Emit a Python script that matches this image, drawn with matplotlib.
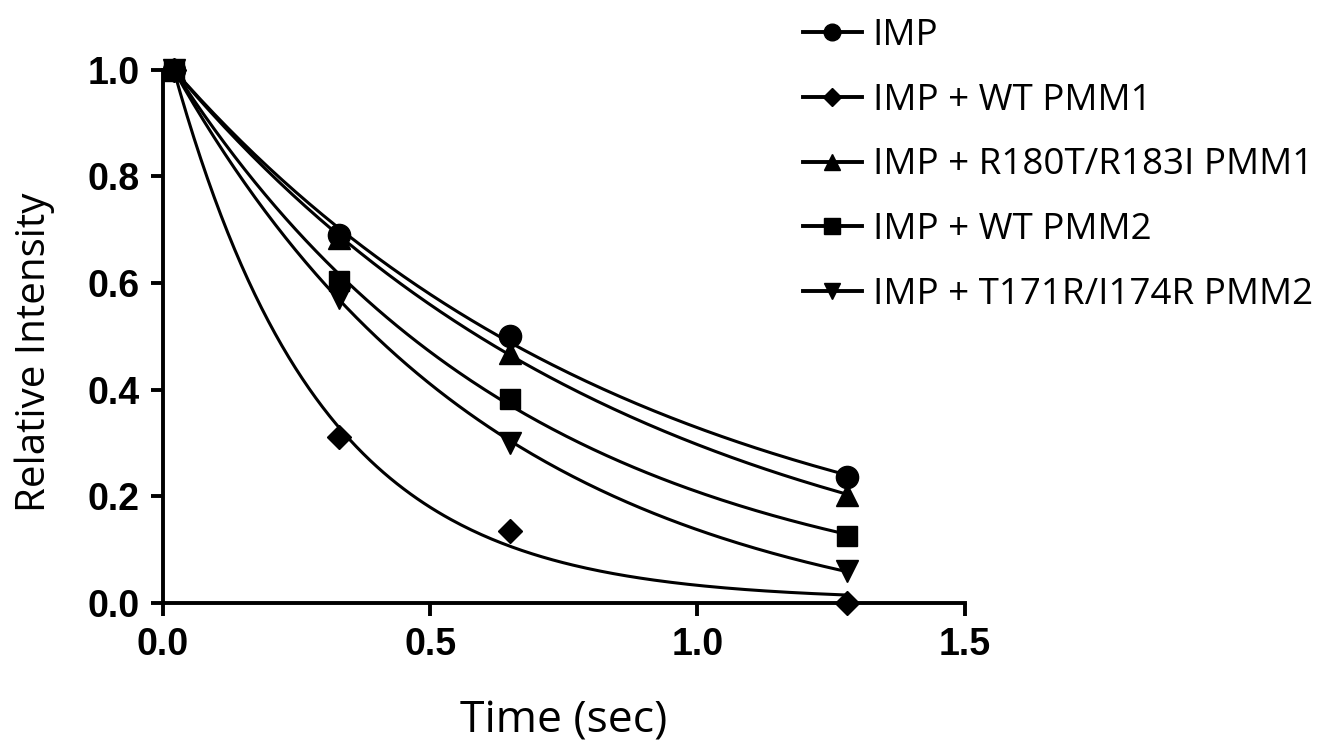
import numpy as np
import matplotlib
matplotlib.use('Agg')
import matplotlib.pyplot as plt

# time points (sec) and relative intensities
time = [0.02, 0.33, 0.65, 1.28]
imp = [1.0, 0.69, 0.50, 0.237]
imp_wt_pmm1 = [1.0, 0.312, 0.135, 0.0]
imp_mut_pmm1 = [1.0, 0.685, 0.468, 0.203]
imp_wt_pmm2 = [1.0, 0.604, 0.383, 0.125]
imp_mut_pmm2 = [1.0, 0.572, 0.30, 0.06]

labels = ['IMP', 'IMP + WT PMM1', 'IMP + R180T/R183I PMM1',
          'IMP + WT PMM2', 'IMP + T171R/I174R PMM2']
series = [imp, imp_wt_pmm1, imp_mut_pmm1, imp_wt_pmm2, imp_mut_pmm2]
markers = ['o', 'D', '^', 's', 'v']
msizes = [16, 12, 16, 15, 16]

label_font = 'Open Sans'
tick_font = 'Liberation Sans'


def fit_decay(t, y):
    # one phase decay from the first point, free plateau, grid search on k
    t = np.asarray(t)
    y = np.asarray(y)
    best = None
    for k in np.linspace(0.05, 10, 10000):
        e = y[0] * np.exp(-k * (t - t[0]))
        g = 1 - np.exp(-k * (t - t[0]))
        p = np.sum((y - e) * g) / np.sum(g * g)
        err = np.sum((y - e - p * g) ** 2)
        if best is None or err < best[0]:
            best = (err, k, p)
    _, k, p = best
    tt = np.linspace(t[0], t[-1], 200)
    return tt, p + (y[0] - p) * np.exp(-k * (tt - t[0]))


fig = plt.figure(figsize=(13.36, 7.5), dpi=100)
ax = fig.add_axes([0.122, 0.196, 0.6, 0.711])

handles = []
for y, m, ms, lab in zip(series, markers, msizes, labels):
    tt, yy = fit_decay(time, y)
    ax.plot(tt, yy, color='black', lw=2.2, zorder=2)
    ax.plot(time, y, linestyle='none', marker=m, ms=ms, color='black', zorder=3, clip_on=False)
    h, = ax.plot([], [], color='black', lw=2.8, marker=m, ms=ms * 0.75, label=lab)
    handles.append(h)

ax.set_xlim(0, 1.5)
ax.set_ylim(0, 1.0)
ax.set_xticks([0.0, 0.5, 1.0, 1.5])
ax.set_yticks([0.0, 0.2, 0.4, 0.6, 0.8, 1.0])
ax.xaxis.set_major_formatter(matplotlib.ticker.FormatStrFormatter('%.1f'))
ax.yaxis.set_major_formatter(matplotlib.ticker.FormatStrFormatter('%.1f'))

for s in ['top', 'right']:
    ax.spines[s].set_visible(False)
for s in ['left', 'bottom']:
    ax.spines[s].set_linewidth(2.8)
ax.tick_params(direction='out', length=9, width=2.8, pad=8)
for lbl in ax.get_xticklabels() + ax.get_yticklabels():
    lbl.set_fontfamily(tick_font)
    lbl.set_fontweight('bold')
    lbl.set_fontsize(27)

ax.set_xlabel('Time (sec)', fontfamily=label_font, fontsize=32, labelpad=26)
ax.set_ylabel('Relative Intensity', fontfamily=label_font, fontsize=29)
ax.yaxis.set_label_coords(-0.135, 0.47)

fig.legend(handles=handles, loc='upper left', bbox_to_anchor=(0.601, 0.976),
           frameon=False, prop={'family': label_font, 'size': 26.5},
           handlelength=1.6, handletextpad=0.3, labelspacing=0.78,
           borderpad=0, borderaxespad=0)

fig.savefig('out.png', dpi=100)
